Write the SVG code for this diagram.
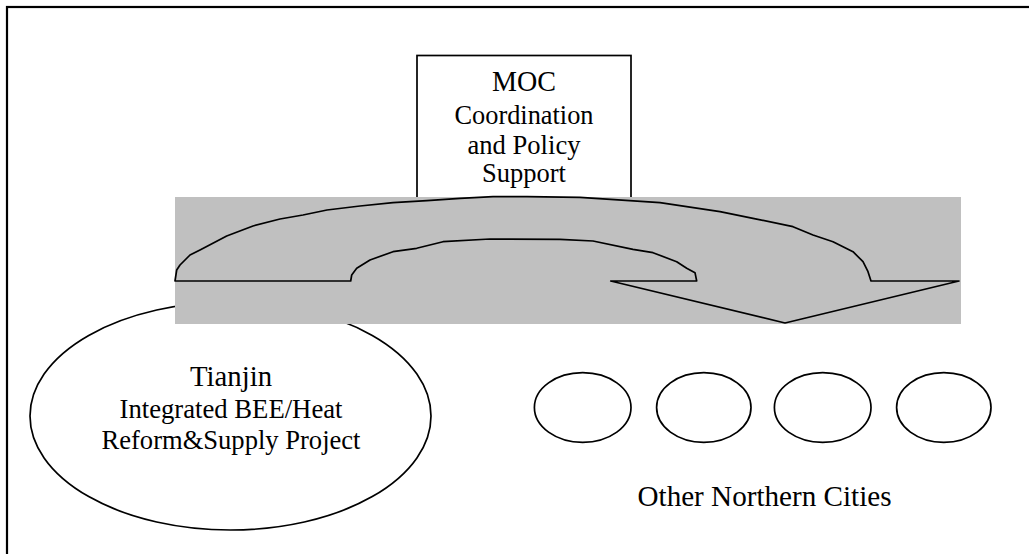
<svg xmlns="http://www.w3.org/2000/svg" width="1029" height="554" viewBox="0 0 1029 554">
<style>
.ln{stroke:#000;stroke-width:1.7;}
.t{font-family:'Liberation Serif','Times New Roman',serif;fill:#000;text-anchor:middle;}
.s26{font-size:26.5px;}
.s28{font-size:28.5px;}
</style>
<rect x="7" y="7" width="1040" height="570" fill="#fff" stroke="#000" stroke-width="2.2"/>
<g id="moc">
<rect class="ln" x="417" y="55.5" width="214" height="160" fill="#fff"/>
<text class="t s28" x="524" y="90.5" textLength="64" lengthAdjust="spacingAndGlyphs">MOC</text>
<text class="t s26" x="524" y="124" textLength="139" lengthAdjust="spacingAndGlyphs">Coordination</text>
<text class="t s26" x="524" y="153.5" textLength="113" lengthAdjust="spacingAndGlyphs">and Policy</text>
<text class="t s26" x="524" y="182" textLength="84" lengthAdjust="spacingAndGlyphs">Support</text>
</g>
<g id="tianjin">
<ellipse class="ln" cx="230.5" cy="416" rx="200.5" ry="114" fill="#fff"/>
</g>
<g id="connectors">
<rect x="175" y="197" width="786" height="127" fill="#c0c0c0"/>
<path class="ln" fill="#c0c0c0" stroke-linejoin="round" d="M175,281 L350.7,281 L351.7,275 L356.7,268.3 L370,260 L393,251.7 L416.7,248.3 L443,241.7 L490,239 L560,239.3 L593,241 L633,249.3 L653,252.7 L676.7,261.7 L686.7,268.3 L695,272.7 L696.7,281 L610.7,281 L785,323 L959,281 L871,281 L868,271.7 L863,261.7 L853,251.7 L833,241.7 L813,235 L793,226.7 L753,218.3 L720,211.7 L660,202.7 L580,197.3 L527,196.7 L493,196.7 L460,198.3 L427,200.7 L393,202.7 L360,206 L327,210 L303,215 L280,219 L253,226 L226.7,236 L200,250 L190,255 L180,265 L176.7,270 Z"/>
</g>
<g id="tianjin-label">
<text class="t s28" x="231" y="386" textLength="82" lengthAdjust="spacingAndGlyphs">Tianjin</text>
<text class="t s26" x="231" y="418" textLength="223" lengthAdjust="spacingAndGlyphs">Integrated BEE/Heat</text>
<text class="t s26" x="231" y="449" textLength="259" lengthAdjust="spacingAndGlyphs">Reform&amp;Supply Project</text>
</g>
<g id="city1"><ellipse class="ln" cx="582.7" cy="407.5" rx="48.3" ry="34.8" fill="#fff"/></g>
<g id="city2"><ellipse class="ln" cx="703.8" cy="407.5" rx="47.2" ry="34.8" fill="#fff"/></g>
<g id="city3"><ellipse class="ln" cx="822.7" cy="407.5" rx="48.3" ry="34.8" fill="#fff"/></g>
<g id="city4"><ellipse class="ln" cx="943.8" cy="407.5" rx="47.2" ry="34.8" fill="#fff"/></g>
<g id="cities-label">
<text class="t s28" x="764.5" y="505.5" textLength="254" lengthAdjust="spacingAndGlyphs">Other Northern Cities</text>
</g>
</svg>
